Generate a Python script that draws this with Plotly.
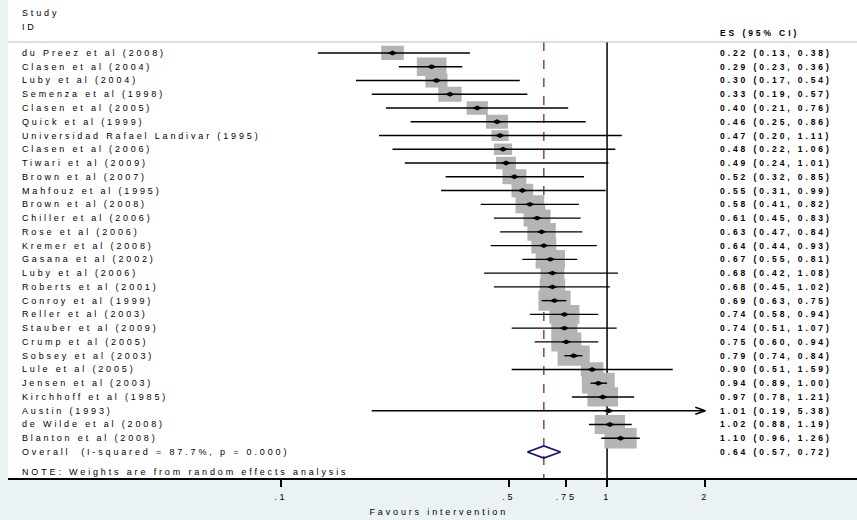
import math
import plotly.graph_objects as go

# ---------------- data ----------------
studies = [
    "du Preez et al (2008)", "Clasen et al (2004)", "Luby et al (2004)",
    "Semenza et al (1998)", "Clasen et al (2005)", "Quick et al (1999)",
    "Universidad Rafael Landivar (1995)", "Clasen et al (2006)", "Tiwari et al (2009)",
    "Brown et al (2007)", "Mahfouz et al (1995)", "Brown et al (2008)",
    "Chiller et al (2006)", "Rose et al (2006)", "Kremer et al (2008)",
    "Gasana et al (2002)", "Luby et al (2006)", "Roberts et al (2001)",
    "Conroy et al (1999)", "Reller et al (2003)", "Stauber et al (2009)",
    "Crump et al (2005)", "Sobsey et al (2003)", "Lule et al (2005)",
    "Jensen et al (2003)", "Kirchhoff et al (1985)", "Austin (1993)",
    "de Wilde et al (2008)", "Blanton et al (2008)",
]
es = [0.22, 0.29, 0.30, 0.33, 0.40, 0.46, 0.47, 0.48, 0.49, 0.52, 0.55, 0.58, 0.61, 0.63,
      0.64, 0.67, 0.68, 0.68, 0.69, 0.74, 0.74, 0.75, 0.79, 0.90, 0.94, 0.97, 1.01, 1.02, 1.10]
ci_low = [0.13, 0.23, 0.17, 0.19, 0.21, 0.25, 0.20, 0.22, 0.24, 0.32, 0.31, 0.41, 0.45, 0.47,
          0.44, 0.55, 0.42, 0.45, 0.63, 0.58, 0.51, 0.60, 0.74, 0.51, 0.89, 0.78, 0.19, 0.88, 0.96]
ci_high = [0.38, 0.36, 0.54, 0.57, 0.76, 0.86, 1.11, 1.06, 1.01, 0.85, 0.99, 0.82, 0.83, 0.84,
           0.93, 0.81, 1.08, 1.02, 0.75, 0.94, 1.07, 0.94, 0.84, 1.59, 1.00, 1.21, 5.38, 1.19, 1.26]
weights = [2.6, 4.5, 2.5, 2.8, 2.3, 2.5, 1.5, 1.7, 2.0, 2.9, 2.4, 4.2, 3.7, 4.1, 3.2, 4.4, 2.9,
           3.3, 5.3, 4.6, 3.5, 4.6, 5.3, 2.6, 5.5, 4.8, 0.2, 4.7, 5.3]
overall_es, overall_low, overall_high = 0.64, 0.57, 0.72
i_squared = 87.7
p_het = 0.000
x_tickvals = [0.1, 0.5, 0.75, 1, 2]
x_ticktext = [".1", ".5", ".75", "1", "2"]

# ---------------- layout constants ----------------
W, H = 857, 520
ML, MR, MT, MB = 8, 0, 0, 42
X_RANGE = [-1.836, 0.766]
Y_RANGE = [30.89, -3.85]
plot_w = W - ML - MR
plot_h = H - MT - MB
px_dec = plot_w / (X_RANGE[1] - X_RANGE[0])
px_row = plot_h / (Y_RANGE[0] - Y_RANGE[1])
BOX_K = 14.0
BOX_ASPECT = 0.63
CLIP_HI = 2.0
SEP_ROW = -0.8
FONT = "Liberation Sans, Arial, Helvetica, sans-serif"
BOX_COLOR = "rgb(180,180,180)"
NAVY = "rgb(20,20,128)"
MAROON = "rgb(160,62,68)"
BG = "rgb(234,242,243)"

n = len(studies)
rows = list(range(n))
overall_row = n

fig = go.Figure()

# reference lines (under boxes)
fig.add_trace(go.Scatter(x=[1, 1], y=[SEP_ROW, Y_RANGE[0]], mode="lines",
                         line=dict(color="black", width=1.5), hoverinfo="skip"))
fig.add_trace(go.Scatter(x=[overall_es, overall_es], y=[SEP_ROW, Y_RANGE[0]], mode="lines",
                         line=dict(color=MAROON, width=1.5, dash="dash"), hoverinfo="skip"))

# weight boxes
bx, by = [], []
for r, e, w in zip(rows, es, weights):
    side = BOX_K * math.sqrt(w)
    f = 10 ** (side / 2 / px_dec)
    hh = side * BOX_ASPECT / 2 / px_row
    bx += [e / f, e * f, e * f, e / f, e / f, None]
    by += [r - hh, r - hh, r + hh, r + hh, r - hh, None]
fig.add_trace(go.Scatter(x=bx, y=by, mode="lines", fill="toself", fillcolor=BOX_COLOR,
                         line=dict(width=0, color=BOX_COLOR), hoverinfo="skip"))

# confidence intervals
cx, cy = [], []
ax_, ay_ = [], []
for r, lo, hi in zip(rows, ci_low, ci_high):
    cx += [lo, min(hi, CLIP_HI), None]
    cy += [r, r, None]
    if hi > CLIP_HI:
        back = CLIP_HI / 10 ** (10 / px_dec)
        dy = 3.5 / px_row
        ax_ += [back, CLIP_HI, back, None]
        ay_ += [r - dy, r, r + dy, None]
fig.add_trace(go.Scatter(x=cx, y=cy, mode="lines", line=dict(color="black", width=1.4),
                         hoverinfo="skip"))
if ax_:
    fig.add_trace(go.Scatter(x=ax_, y=ay_, mode="lines", line=dict(color="black", width=1.4),
                             hoverinfo="skip"))

# point estimates
fig.add_trace(go.Scatter(x=es, y=rows, mode="markers",
                         marker=dict(symbol="diamond-wide", size=7, color="black"),
                         hoverinfo="skip"))

# overall diamond
dh = 6 / px_row
fig.add_trace(go.Scatter(
    x=[overall_low, overall_es, overall_high, overall_es, overall_low],
    y=[overall_row, overall_row - dh, overall_row, overall_row + dh, overall_row],
    mode="lines", line=dict(color=NAVY, width=1.8), hoverinfo="skip"))

# ---------------- text ----------------
annotations = []
LABEL_X = (21 - ML) / plot_w
ES_X = (719 - ML) / plot_w


def add_text(x, y, text, size=9, bold=False, xref="paper", yref="y", xanchor="left"):
    annotations.append(dict(
        x=x, y=y, xref=xref, yref=yref, text=text, showarrow=False,
        xanchor=xanchor, yanchor="middle", align="left" if xanchor == "left" else "center",
        borderpad=0,
        font=dict(family=FONT, size=size, color="black", weight="bold" if bold else "normal")))


add_text(LABEL_X, -2.9, "Study")
add_text(LABEL_X, -1.88, "ID")
add_text(ES_X, -1.45, "ES (95% CI)", size=8.5, bold=True)
for r, name, e, lo, hi in zip(rows, studies, es, ci_low, ci_high):
    add_text(LABEL_X, r, name)
    add_text(ES_X, r, f"{e:.2f} ({lo:.2f}, {hi:.2f})", size=8.5, bold=True)
add_text(LABEL_X, overall_row, f"Overall  (I-squared = {i_squared:.1f}%, p = {p_het:.3f})")
add_text(ES_X, overall_row, f"{overall_es:.2f} ({overall_low:.2f}, {overall_high:.2f})",
         size=8.5, bold=True)
add_text(LABEL_X, 30.45, "NOTE: Weights are from random effects analysis")
add_text((438.7 - ML) / plot_w, (H - MB - 512) / plot_h, "Favours intervention",
         yref="paper", xanchor="center")

fig.update_layout(
    width=W, height=H,
    margin=dict(l=ML, r=MR, t=MT, b=MB, pad=0),
    paper_bgcolor=BG, plot_bgcolor="white",
    showlegend=False,
    annotations=annotations,
    shapes=[dict(type="line", xref="paper", yref="y", x0=0, x1=1, y0=SEP_ROW, y1=SEP_ROW,
                 line=dict(color="rgb(190,190,190)", width=1))],
    xaxis=dict(type="log", range=X_RANGE, tickvals=x_tickvals, ticktext=x_ticktext,
               showgrid=False, zeroline=False, showline=True, linecolor="black", linewidth=1.5,
               ticks="outside", ticklen=7, tickwidth=2, tickcolor="black",
               ticklabelstandoff=2,
               tickfont=dict(family=FONT, size=9, color="black"), fixedrange=True),
    yaxis=dict(range=Y_RANGE, visible=False, fixedrange=True),
)

post = """
document.body.style.margin = '0';
document.body.style.padding = '0';
var gd = document.getElementById('{plot_id}');
function applyLS(){
  gd.querySelectorAll('text').forEach(function(t){
    var w = parseInt(window.getComputedStyle(t).fontWeight) || 400;
    t.style.letterSpacing = (w >= 600) ? '2.9px' : '2.85px';
  });
}
applyLS();
if (gd.on) { gd.on('plotly_afterplot', applyLS); }
"""

fig.write_html("out.html", config={"displayModeBar": False}, post_script=post)
